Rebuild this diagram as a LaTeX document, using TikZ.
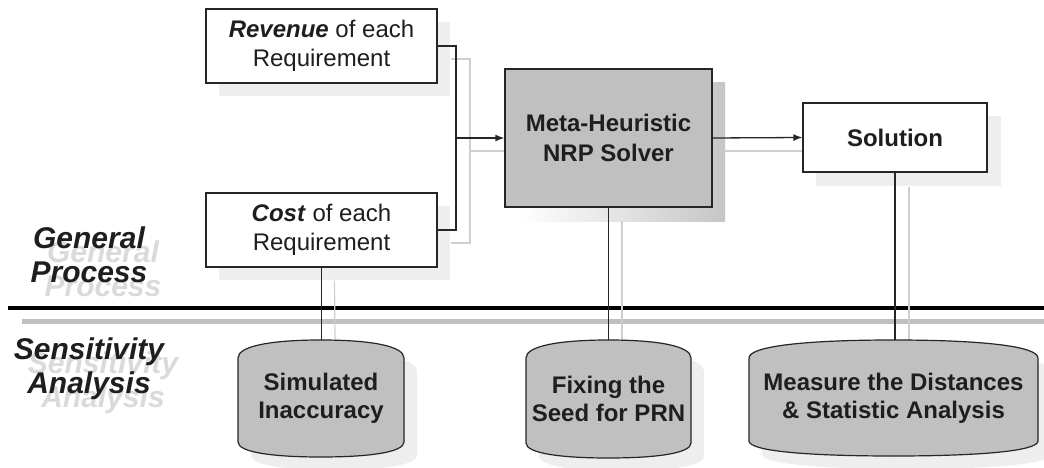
\documentclass[tikz,border=0pt]{standalone}
\usepackage{fontspec}
\setmainfont{Liberation Sans}
\usetikzlibrary{arrows.meta}
\definecolor{boxgray}{HTML}{C0C0C0}
\definecolor{metash}{HTML}{C6C6C6}
\definecolor{shlight}{HTML}{EEEEEE}
\definecolor{shline}{HTML}{CFCFCF}
\definecolor{shtext}{HTML}{DADADA}
\definecolor{txt}{HTML}{1E1E1E}
\definecolor{edge}{HTML}{262626}
\newcommand\barrelat[5]{%
 \pgfmathsetmacro\brlL{#2}\pgfmathsetmacro\brlR{#3}\pgfmathsetmacro\brlT{#4}\pgfmathsetmacro\brlB{#5}%
 \pgfmathsetmacro\brlC{(\brlL+\brlR)/2}\pgfmathsetmacro\brlW{0.2*(\brlR-\brlL)}%
 \pgfmathsetmacro\brlLa{\brlL+\brlW}\pgfmathsetmacro\brlRa{\brlR-\brlW}%
 \pgfmathsetmacro\brlTa{\brlT+18}\pgfmathsetmacro\brlTb{\brlT+6}%
 \pgfmathsetmacro\brlBa{\brlB-15}\pgfmathsetmacro\brlBb{\brlB-5}%
 \path[#1] (\brlL,\brlTa) .. controls (\brlL,\brlTb) and (\brlLa,\brlT) .. (\brlC,\brlT)
   .. controls (\brlRa,\brlT) and (\brlR,\brlTb) .. (\brlR,\brlTa) -- (\brlR,\brlBa)
   .. controls (\brlR,\brlBb) and (\brlRa,\brlB) .. (\brlC,\brlB)
   .. controls (\brlLa,\brlB) and (\brlL,\brlBb) .. (\brlL,\brlBa) -- cycle;
}
\begin{document}
\begin{tikzpicture}[x=1pt,y=-1pt,
  boxtext/.style={font=\fontsize{24}{29}\selectfont, text=txt, align=center, inner sep=0pt},
  wbox/.style={boxtext, draw=edge, line width=1.3pt, fill=white},
  gbox/.style={boxtext, draw=edge, line width=1.3pt, fill=boxgray},
  conn/.style={draw=edge, line width=1.3pt},
  sline/.style={draw=shline, line width=1.2pt},
  lbl/.style={font=\fontsize{30}{34}\selectfont\bfseries\itshape, align=center, anchor=base, inner sep=0pt},
  barrel/.style={draw=edge, line width=1.2pt, fill=boxgray},
  barrelshadow/.style={fill=shlight},
]
\useasboundingbox (0,0) rectangle (1044,468);

% shadows of boxes
\fill[shlight] (219,22) rectangle (450,96);
\fill[shlight] (219,206) rectangle (450,280);
\shade[left color=white, right color=metash] (519,83) rectangle (725,221);
\fill[shlight] (816,116) rectangle (1001,186);
% shadows of barrels
\barrelat{barrelshadow}{251}{417}{353}{470}
\barrelat{barrelshadow}{539}{704}{353}{471}
\barrelat{barrelshadow}{762}{1051}{353}{469}

% side labels (anchor base = last line)
\node[lbl, text=shtext] (gps) at (103,296) {General\\Process};
\node[lbl, text=txt] (gp) at (89,282) {General\\Process};
\node[lbl, text=shtext] (sas) at (103,407) {Sensitivity\\Analysis};
\node[lbl, text=txt] (sa) at (89,393) {Sensitivity\\Analysis};

% separators
\coordinate (sepl) at (8,308);
\coordinate (sepr) at (1044,308);
\draw[line width=4.5pt, black] (sepl) -- (sepr);
\coordinate (sepgl) at (22,321);
\coordinate (sepgr) at (1044,321);
\draw[line width=5pt, boxgray] (sepgl) -- (sepgr);

% nodes
\node[wbox, minimum width=231pt, minimum height=74pt] (rev) at (321.5,46)
  {\textbf{\textit{Revenue}} of each\\Requirement};
\node[wbox, minimum width=231pt, minimum height=74pt] (cost) at (321.5,230)
  {\textbf{\textit{Cost}} of each\\Requirement};
\node[boxtext, minimum width=166pt, minimum height=117pt] (sim) at (321,398.5) {};
\node[boxtext, minimum width=165pt, minimum height=118pt] (fix) at (608.5,399) {};
\node[boxtext, minimum width=289pt, minimum height=116pt] (mea) at (893.5,398) {};
\coordinate (j) at (456,138);

% shadow connectors
\draw[sline] ([shift={(13,13)}]rev.east) -| (470,243) -- ([shift={(13,13)}]cost.east);
\draw[sline] (470,151) -- (505,151);
\draw[sline] (725,151) -- (809,151);
\draw[sline] ([shift={(13,13)}]cost.south) -- ([shift={(14,0)}]sim.north);
\draw[sline] (622,221) -- ([shift={(13.5,0)}]fix.north);
\draw[sline] (909,187) -- (909,340);

% connectors
\draw[conn] (rev.east) -| (j);
\draw[conn] (cost.east) -| (j);

\node[gbox, minimum width=207pt, minimum height=138pt, font=\fontsize{24}{30}\selectfont\bfseries] (meta) at (608.5,138)
  {Meta-Heuristic\\NRP Solver};
\node[wbox, minimum width=184pt, minimum height=69pt, font=\fontsize{24}{29}\selectfont\bfseries] (sol) at (895,137.5) {Solution};

\draw[conn, -{Latex[length=9pt,width=7pt]}] (j) -- (meta.west);
\draw[conn, -{Latex[length=9pt,width=7pt]}] (meta.east) -- (sol.west);
\draw[conn] (cost.south) -- (cost.south |- sim.north);
\draw[conn] (meta.south) -- (meta.south |- fix.north);
\draw[conn] (sol.south) -- (sol.south |- mea.north);

% barrels
\barrelat{barrel}{238}{404}{340}{457}
\barrelat{barrel}{526}{691}{340}{458}
\barrelat{barrel}{749}{1038}{340}{456}
\node[boxtext, font=\fontsize{24}{28}\selectfont\bfseries] (simt) at (sim.center) {Simulated\\Inaccuracy};
\node[boxtext, font=\fontsize{24}{28}\selectfont\bfseries] (fixt) at (fix.center) {Fixing the\\Seed for PRN};
\node[boxtext, font=\fontsize{24}{28}\selectfont\bfseries] (meat) at (mea.center) {Measure the Distances\\\& Statistic Analysis};
\end{tikzpicture}
\end{document}
